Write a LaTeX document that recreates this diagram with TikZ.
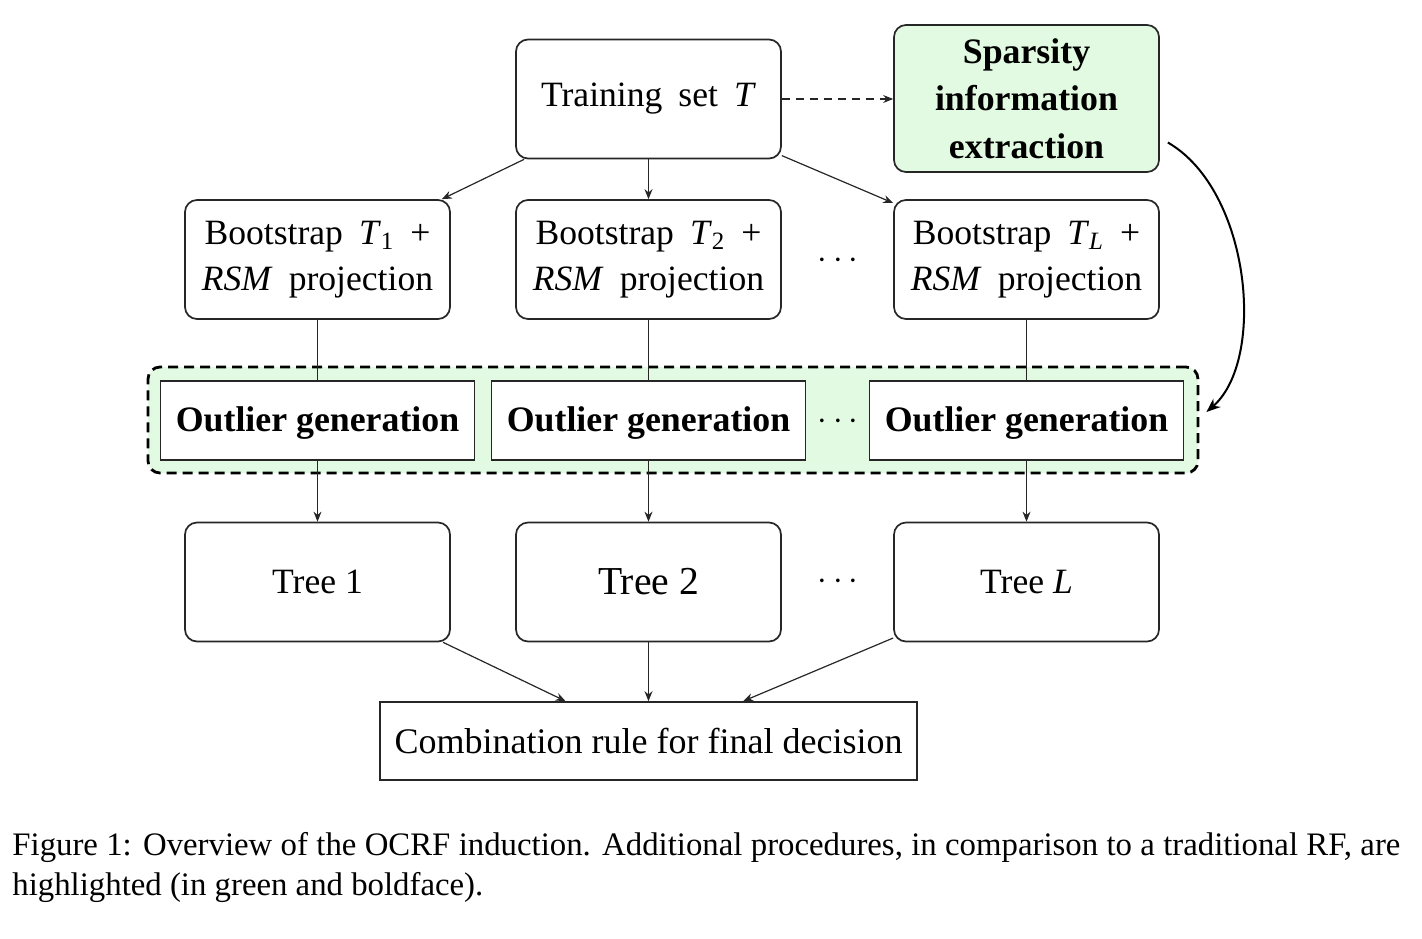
\documentclass[tikz,border=0pt]{standalone}
\usepackage{fontspec}
\setmainfont{Liberation Serif}
\usetikzlibrary{arrows.meta,calc}
\definecolor{hl}{RGB}{225,250,225}
\newcommand{\wsp}{\hspace{0.45em}}
\begin{document}
\begin{tikzpicture}[x=0.5pt,y=-0.5pt,
  rbox/.style={draw=black!85, line width=0.85pt, rounded corners=6pt, fill=white,
    minimum width=132.5pt, minimum height=59.5pt, align=center, inner sep=0pt,
    font=\fontsize{17.8}{23}\selectfont},
  sbox/.style={draw=black!85, line width=0.85pt, fill=white,
    minimum width=157pt, minimum height=39.5pt, inner sep=0pt,
    text height=12.5pt, text depth=2pt,
    font=\fontsize{17.9}{22}\selectfont\bfseries},
  cont/.style={draw=black, line width=1.4pt, dash pattern=on 5pt off 3pt,
    rounded corners=6pt, fill=hl, minimum width=525pt, minimum height=53pt, inner sep=0pt},
  arr/.style={draw=black!85, line width=0.6pt, -{Stealth[length=5pt,width=4pt]}},
  ln/.style={draw=black!85, line width=0.6pt},
  dotsn/.style={font=\fontsize{17.8}{22}\selectfont, inner sep=0pt}
]
\useasboundingbox (0,0) rectangle (1422,938);

% top row
\node[rbox] (train) at (648.5,99) {Training\wsp set\wsp\textit{T}};
\node[rbox, fill=hl, minimum height=73.5pt, font=\fontsize{17.9}{23.75}\selectfont\bfseries]
  (spars) at (1026.5,98.5) {Sparsity\\information\\extraction};

% bootstrap row
\node[rbox] (b1) at (317.5,259.5) {Bootstrap\wsp\textit{T}\textsubscript{1}\wsp+\\\textit{RSM}\wsp projection};
\node[rbox] (b2) at (648.5,259.5) {Bootstrap\wsp\textit{T}\textsubscript{2}\wsp+\\\textit{RSM}\wsp projection};
\node[rbox] (b3) at (1026.5,259.5) {Bootstrap\wsp\textit{T}\textsubscript{\textit{L}}\wsp+\\\textit{RSM}\wsp projection};
\node[dotsn] (d1) at (838,261) {$\cdots$};

% outlier row
\node[cont] (cont) at (673,420) {};
\node[sbox] (o1) at (317.5,420.5) {Outlier generation};
\node[sbox] (o2) at (648.5,420.5) {Outlier generation};
\node[sbox] (o3) at (1026.5,420.5) {Outlier generation};
\node[dotsn] (d2) at (838,422) {$\cdots$};

% tree row
\node[rbox] (t1) at (317.5,582) {Tree 1};
\node[rbox, font=\fontsize{19.8}{23}\selectfont] (t2) at (648.5,582) {Tree 2};
\node[rbox] (t3) at (1026.5,582) {Tree \textit{L}};
\node[dotsn] (d3) at (838,582) {$\cdots$};

% combination
\node[draw=black!85, line width=0.85pt, minimum width=268.5pt, minimum height=39pt, inner sep=0pt,
  font=\fontsize{18}{22}\selectfont] (comb) at (648.5,741) {Combination rule for final decision};

% connectors
\draw[arr] (train) -- (b1);
\draw[arr] (train) -- (b2);
\draw[arr] (train) -- (b3);
\draw[arr, dash pattern=on 4pt off 3pt] (train.east) -- (train.east -| spars.west);

\draw[ln] (b1) -- (o1);
\draw[ln] (b2) -- (o2);
\draw[ln] (b3) -- (o3);

\draw[arr] (o1) -- (t1);
\draw[arr] (o2) -- (t2);
\draw[arr] (o3) -- (t3);

\draw[arr] (t1) -- (comb);
\draw[arr] (t2) -- (comb);
\draw[arr] (t3) -- (comb);

\draw[draw=black, line width=1pt, -{Stealth[length=7pt,width=5.5pt]}]
  ($(spars.east)+(8,44)$) .. controls ($(spars.east)+(91,92)$) and ($(cont.east)+(67,-60)$) .. ($(cont.east)+(7,-8)$);

% caption
\node[anchor=north west, text width=694pt, align=justify, inner sep=0pt,
  font=\fontsize{16.4}{20}\selectfont] (cap) at (12,832)
  {Figure 1: Overview of the OCRF induction. Additional procedures, in comparison to a traditional RF, are\linebreak highlighted (in green and boldface).};
\end{tikzpicture}
\end{document}
